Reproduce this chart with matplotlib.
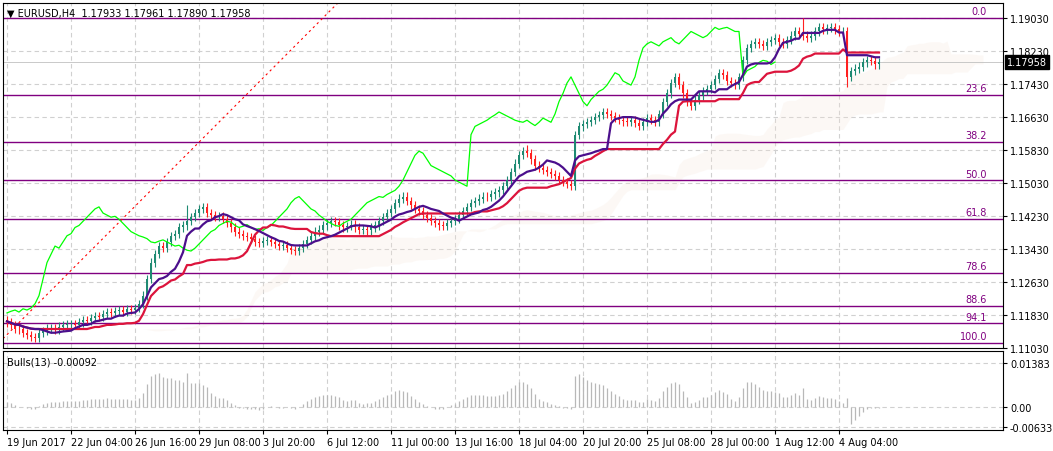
import numpy as np
import pandas as pd
import matplotlib
matplotlib.use("Agg")
import matplotlib.pyplot as plt

# H4 closes, bar by bar
closes = [
    1.1165, 1.1158, 1.1150, 1.1148, 1.1140, 1.1135, 1.1130, 1.1128, 1.1140, 1.1145, 1.1150, 1.1152, 1.1148, 1.1155, 1.1158, 1.1160,
    1.1162, 1.1158, 1.1165, 1.1170, 1.1168, 1.1175, 1.1180, 1.1178, 1.1185, 1.1190, 1.1188, 1.1192, 1.1195, 1.1190, 1.1198, 1.1195,
    1.1200, 1.1210, 1.1230, 1.1270, 1.1310, 1.1330, 1.1350, 1.1345, 1.1360, 1.1375, 1.1380, 1.1395, 1.1400, 1.1410, 1.1420, 1.1430,
    1.1440, 1.1445, 1.1430, 1.1425, 1.1420, 1.1422, 1.1415, 1.1405, 1.1395, 1.1385, 1.1380, 1.1375, 1.1372, 1.1368, 1.1360, 1.1358,
    1.1362, 1.1365, 1.1360, 1.1355, 1.1350, 1.1352, 1.1345, 1.1340, 1.1338, 1.1345, 1.1355, 1.1365, 1.1375, 1.1385, 1.1390, 1.1400,
    1.1405, 1.1410, 1.1408, 1.1400, 1.1395, 1.1398, 1.1402, 1.1395, 1.1390, 1.1392, 1.1388, 1.1395, 1.1400, 1.1410, 1.1420, 1.1430,
    1.1440, 1.1455, 1.1465, 1.1470, 1.1460, 1.1450, 1.1440, 1.1435, 1.1425, 1.1418, 1.1410, 1.1405, 1.1400, 1.1398, 1.1405, 1.1410,
    1.1415, 1.1425, 1.1435, 1.1445, 1.1455, 1.1460, 1.1465, 1.1470, 1.1468, 1.1475, 1.1480, 1.1485, 1.1495, 1.1510, 1.1530, 1.1550,
    1.1570, 1.1580, 1.1575, 1.1560, 1.1545, 1.1540, 1.1535, 1.1530, 1.1525, 1.1520, 1.1510, 1.1505, 1.1500, 1.1495, 1.1620, 1.1640,
    1.1645, 1.1650, 1.1655, 1.1662, 1.1668, 1.1675, 1.1670, 1.1665, 1.1660, 1.1655, 1.1652, 1.1650, 1.1655, 1.1648, 1.1642, 1.1650,
    1.1660, 1.1655, 1.1650, 1.1670, 1.1700, 1.1720, 1.1745, 1.1760, 1.1740, 1.1720, 1.1700, 1.1690, 1.1705, 1.1715, 1.1725, 1.1730,
    1.1740, 1.1755, 1.1770, 1.1765, 1.1750, 1.1745, 1.1740, 1.1760, 1.1800, 1.1830, 1.1840, 1.1845, 1.1840, 1.1835, 1.1845, 1.1850,
    1.1855, 1.1845, 1.1840, 1.1850, 1.1860, 1.1870, 1.1865, 1.1860, 1.1855, 1.1860, 1.1870, 1.1880, 1.1875, 1.1878, 1.1880, 1.1875,
    1.1870, 1.1870, 1.1760, 1.1775, 1.1780, 1.1785, 1.1795, 1.1800, 1.1798, 1.1790, 1.1796,
]
first_open = 1.1170
wick = 0.0010
spike_high = {199: 1.1903, 45: 1.1450, 130: 1.1595}
spike_low = {210: 1.1735, 7: 1.1118}

date_labels = ["19 Jun 2017", "22 Jun 04:00", "26 Jun 16:00", "29 Jun 08:00", "3 Jul 20:00",
               "6 Jul 12:00", "11 Jul 00:00", "13 Jul 16:00", "18 Jul 04:00", "20 Jul 20:00",
               "25 Jul 08:00", "28 Jul 00:00", "1 Aug 12:00", "4 Aug 04:00"]
price_ticks = [1.19030, 1.18230, 1.17430, 1.16630, 1.15830, 1.15030, 1.14230, 1.13430, 1.12630, 1.11830, 1.11030]
fib_high, fib_low = 1.1903, 1.1116
fib_levels = [0.0, 23.6, 38.2, 50.0, 61.8, 78.6, 88.6, 94.1, 100.0]
bulls_ticks = [0.01383, 0.00, -0.00633]
last_price = 1.17958

df = pd.DataFrame({"close": closes})
df["open"] = df["close"].shift(1).fillna(first_open)
df["high"] = df[["open", "close"]].max(axis=1) + wick
df["low"] = df[["open", "close"]].min(axis=1) - wick
for k, v in spike_high.items():
    df.loc[k, "high"] = v
for k, v in spike_low.items():
    df.loc[k, "low"] = v
n = len(df)
x = np.arange(n)

# ichimoku lines
tenkan = (df["high"].rolling(9, min_periods=1).max() + df["low"].rolling(9, min_periods=1).min()) / 2
kijun = (df["high"].rolling(26, min_periods=1).max() + df["low"].rolling(26, min_periods=1).min()) / 2
chikou = df["close"].shift(-26)
span_a = ((tenkan + kijun) / 2)
span_b = (df["high"].rolling(52, min_periods=1).max() + df["low"].rolling(52, min_periods=1).min()) / 2
bulls = df["high"] - df["close"].ewm(span=13, adjust=False).mean()

W, H = 1053, 452
fig = plt.figure(figsize=(W / 100, H / 100), dpi=100)
ax = fig.add_axes([3 / W, 1 - 349 / H, 1000 / W, 345 / H])
bx = fig.add_axes([3 / W, 1 - 431 / H, 1000 / W, 79 / H])

for a in (ax, bx):
    a.set_xlim(-1, 249)
    a.yaxis.tick_right()
    a.tick_params(axis="both", labelsize=7, length=3, direction="out", pad=2)
    a.grid(True, color="#d0d0d0", linestyle=(0, (4, 3)), linewidth=0.8)
    a.set_axisbelow(True)
    for s in a.spines.values():
        s.set_linewidth(0.8)

ax.set_ylim(1.1112, 1.1939)
ax.set_yticks(price_ticks)
ax.set_yticklabels([f"{p:.5f}" for p in price_ticks])
ax.set_xticks(np.arange(0, 16 * len(date_labels), 16))
ax.set_xticklabels([])
ax.tick_params(axis="x", length=0)

# faint cloud
xs = x + 26
ax.fill_between(xs, span_a, span_b, color="#f6e6da", alpha=0.25, linewidth=0)

# fib levels
for lv in fib_levels:
    p = fib_high - (fib_high - fib_low) * lv / 100
    ax.axhline(p, color="#800080", linewidth=1.0, zorder=2)
    ax.text(245, p + 0.0004, f"{lv:.1f}", color="#800080", fontsize=7, ha="right", va="bottom")
ax.axline((-2, fib_low), (79, fib_high), color="red", linestyle=(0, (2, 3)), linewidth=0.8, zorder=2)

# candles
up = df["close"] >= df["open"]
cols = np.where(up, "#1e8a72", "#ff2020")
ax.vlines(x, df["low"], df["high"], colors=cols, linewidth=0.8, zorder=3)
ax.bar(x, (df["close"] - df["open"]).abs().clip(lower=0.00008), bottom=df[["open", "close"]].min(axis=1),
       width=0.65, color=cols, zorder=4)

ax.plot(x, chikou, color="#00ff00", linewidth=0.9, zorder=5)
ax.plot(x, kijun, color="#dc143c", linewidth=1.6, zorder=5)
ax.plot(x, tenkan, color="#4b0f8c", linewidth=1.6, zorder=6)

ax.axhline(last_price, color="#c0c0c0", linewidth=0.6, zorder=1)
ax.text(1.004, last_price, f"{last_price:.5f}", transform=ax.get_yaxis_transform(), fontsize=7,
        color="white", va="center", ha="left", bbox=dict(facecolor="black", edgecolor="black", pad=1.5))
ax.text(0.004, 0.985, "\u25bc EURUSD,H4  1.17933 1.17961 1.17890 1.17958", transform=ax.transAxes,
        fontsize=7, va="top", ha="left")

# bulls power
bx.set_ylim(-0.0074, 0.0178)
bx.vlines(x, 0, bulls, colors="#b8b8b8", linewidth=0.9)
bx.set_yticks(bulls_ticks)
bx.set_yticklabels(["0.01383", "0.00", "-0.00633"])
bx.set_xticks(np.arange(0, 16 * len(date_labels), 16))
bx.set_xticklabels(date_labels)
for lab in bx.get_xticklabels():
    lab.set_horizontalalignment("left")
bx.text(0.004, 0.93, "Bulls(13) -0.00092", transform=bx.transAxes, fontsize=7, va="top", ha="left")

fig.savefig("out.png", dpi=100)
